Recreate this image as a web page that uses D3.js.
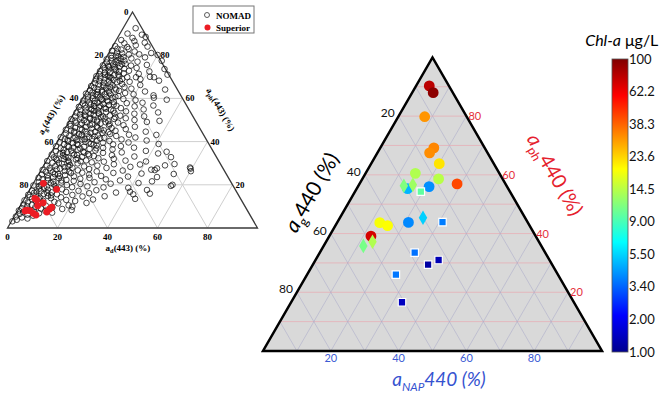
<!DOCTYPE html>
<html>
<head>
<meta charset="utf-8">
<script src="https://cdn.jsdelivr.net/npm/d3@7"></script>
<style>
	body { margin: 0; background: #fff; }
	svg { display: block; }
	.serif { font-family: 'Liberation Serif', 'Times New Roman', serif; font-weight: bold; }
	.sans { font-family: Lato, 'Open Sans', sans-serif; }
</style>
</head>
<body>
<div id="chart"></div>
<script>
// NOMAD samples, [a_d(443), a_ph(443)] in %, a_g is the rest
const nomad = [
	[5,92.5],[3,90],[9,89.5],[6,88],[11,88.5],[2,87],[7.5,86.5],[4,85.5],[12,85.8],[9,84.6],[1,84.2],[14,84],[6,83.8],
	[2.5,83],[4.2,82.6],[7,82.9],[0.8,82],[10,81.7],[3.3,81.2],[5.5,80.8],[17,81],[8.4,80.3],[1.6,80],[12.5,80.4],[4.6,79.5],[20,80.1],[6.8,79.2],[2.2,78.7],[10.3,78.5],[15.5,79],[0.6,78.1],[5.2,77.8],[8,77.5],
	[3.1,77.2],[1.4,76.6],[13.5,77],[6.3,76.4],[23,77.4],[9.2,76],[4.4,75.7],[0.5,75.3],[2.7,75],[7.6,74.9],[11.8,75.2],[18,75.5],[5.5,74.4],[1.9,74],[9.8,73.8],[14.6,74.1],[3.8,73.3],[6.9,73],[26,73.6],[0.7,72.6],[12.2,72.8],[8.5,72.3],[2.9,72.1],[20.5,72.5],[5,71.8],[10.7,71.6],
	[1.2,71.2],[16.8,71.4],[3.6,70.9],[7.3,70.7],[28.5,71],[0.4,70.3],[9.6,70.2],[5.9,69.9],[2.4,69.6],[13,69.8],[22,70],[23.7,69.8],[16.5,69.8],[4.3,69.2],[11.4,69],[0.9,68.8],[8.1,68.6],[6.4,68.3],[18.7,68.9],[2.8,68],[15,67.7],[10,67.5],[26.5,68.2],[4.9,67.3],[1.6,67],[7.7,66.9],[12.6,66.6],[3.2,66.4],[20,66.2],[9,66],
	[0.6,65.7],[5.8,65.5],[14.2,65.2],[2.1,65],[7.1,64.8],[10.8,64.6],[3.9,64.3],[17.3,64.5],[31,64.1],[1.1,63.8],[6,63.6],[8.9,63.3],[12.9,63.5],[4.6,63],[23.4,63.2],[2.6,62.7],[15.8,62.5],[0.3,62.2],[7.9,62],[10.4,61.8],[5.2,61.6],[19.5,61.9],[3.4,61.3],[13.8,61.1],[1.8,60.8],[9.3,60.6],[27.7,61.4],[28.4,60.3],[6.7,60.4],[11.9,60.2],[4.1,60],
	[16.5,59.7],[2.3,59.5],[8.2,59.3],[0.8,59],[21.6,59.2],[5.5,58.8],[34,59.4],[10.9,58.6],[13.4,58.3],[3.7,58.1],[7,57.9],[1.4,57.6],[18.8,57.8],[25,58],[9.7,57.4],[4.8,57.1],[12.1,56.9],[15.3,56.6],[2.6,56.8],[6.4,56.4],[0.5,56.1],[22.7,56.3],[30,56.7],[8.6,55.9],[11,55.6],[3.5,55.4],[17.6,55.5],[5.9,55.1],[14,54.8],[1.9,54.6],[9.1,54.4],[27,54.9],[7.4,54.2],[20.4,54],
	[4.2,53.8],[12.6,53.6],[0.9,53.4],[16.2,53.2],[6.8,53],[33.5,53.5],[10.2,52.8],[2.7,52.6],[24.3,52.9],[8.3,52.3],[14.9,52.1],[5.1,51.9],[19.1,52],[1.3,51.6],[11.7,51.4],[3.9,51.2],[28.8,51.7],[7.6,51],[21.9,50.8],[13.5,50.6],[0.4,50.4],[9.4,50.2],[17.4,50.5],[5.7,49.9],[2.2,49.7],[25.8,50],[15.6,49.4],[11.3,49.2],[36,49.6],[7.2,48.9],[3.1,48.7],[19.8,48.8],[31.2,49.1],[13,48.4],[0.8,48.2],[9.9,48],
	[5.3,47.8],[22.6,47.6],[16.9,47.4],[1.7,47.2],[12.3,47],[8,46.8],[3.8,46.5],[27.5,46.9],[18.5,46.3],[10.6,46.1],[6.1,45.9],[14.4,45.7],[0.6,45.5],[24.4,45.8],[2.9,45.2],[20.7,45],[8.8,44.8],[33,44.6],[12.8,44.5],[4.7,44.2],[16,44],[1.5,43.8],[10.1,43.6],[6.9,43.4],[27,43.2],[19.3,43.5],[38,43.1],[14.7,42.9],[3.4,42.7],[8.4,42.4],[22.2,42.6],[11.6,42.2],[0.3,42],
	[17.8,41.8],[5.6,41.6],[30.2,41.9],[13.2,41.3],[2.4,41.1],[9.5,40.9],[25.1,41],[7.3,40.6],[15.5,40.4],[4.1,40.2],[20.6,40.3],[35.4,40.5],[11.2,39.9],[1,39.7],[18.4,39.5],[6.5,39.3],[28.6,39.6],[13.9,39],[3.2,38.8],[22.9,38.7],[9,38.5],[41,38.9],[16.6,38.2],[5,38],[0.5,37.8],[11.8,37.6],[26.4,37.9],[7.8,37.3],[19.7,37.1],[2.8,36.9],[32,37.2],[14.5,36.6],[9.9,36.3],[4.4,36.1],
	[23.8,36.4],[17.2,35.9],[37.5,35.7],[1.6,35.6],[12.6,35.4],[46,35.3],[6.2,35.1],[28.2,35],[20.8,34.8],[8.7,34.6],[3.7,34.4],[15.1,34.2],[43,34.5],[0.7,34],[10.9,33.8],[24.9,33.7],[5.4,33.5],[17.9,33.3],[34.2,33.1],[13.4,32.9],[2.2,32.7],[8.1,32.5],[49,32.8],[20.2,32.3],[26.5,32],[6.6,31.9],[11.5,31.7],[4,31.5],[15.8,31.3],[31.6,31.2],[0.4,31],[40,30.8],[9.3,30.6],[23.2,30.7],[18.5,30.4],[2.9,30.2],
	[13.1,29.9],[6.9,29.8],[52,29.6],[48.5,29],[27.8,29.5],[38.3,29.4],[10.4,29.2],[1.2,29],[21.5,28.9],[4.8,28.7],[16.4,28.5],[59,28],[59.5,27.5],[46,27.6],[8.6,28.2],[35,28.3],[12,27.9],[3,27.7],[25.7,27.8],[19,27.3],[6.1,27.1],[0.6,26.9],[44,27],[45.5,26.8],[14.8,26.7],[32.8,26.6],[9.7,26.4],[22.6,26.2],[2.3,26],[60.2,26.3],[5.2,25.8],[17.1,25.6],[12.7,25.4],[29.6,25.5],[41,25.2],[54,25],[7.8,25],[1.4,24.8],[20.3,24.7],[10.8,24.5],[3.8,24.3],[25.4,24.1],
	[14.6,23.9],[36.3,23.8],[48,23.6],[6.5,23.5],[0.8,23.3],[21.2,23.2],[9.1,23],[17.7,22.8],[2.7,22.6],[28.1,22.5],[12.4,22.3],[5,22.1],[34,22],[47,21.6],[15.6,21.8],[7.6,21.5],[1.9,21.3],[24.2,21.2],[11,21],[42,20.8],[4.2,20.6],[19,20.4],[31,20.5],[56,20],[55.6,19.5],[8.4,20.2],[13.8,19.9],[0.5,19.7],[2.9,19.4],[22.3,19.3],[6.2,19.1],[16.4,18.9],[29,18.8],[39,18.6],[10.2,18.4],[3.6,18.2],
	[47,17.6],[12.9,17.9],[26.8,17.5],[7.3,17.7],[1.2,17.3],[19.8,17.2],[40.6,16.8],[4.8,17],[15.1,16.7],[9.4,16.5],[2.5,16.3],[35.2,16.4],[24.6,16.1],[49,15.9],[42.5,15.6],[6.6,15.8],[12,15.6],[0.6,15.4],[18.3,15.3],[4,15],[8.8,14.8],[31.5,14.7],[22.7,14.6],[1.8,14.4],[14.3,14.2],[6,14],[10.5,13.8],[44.3,13.5],[3.1,13.4],[27.6,13.2],[17,13],[0.4,12.8],[8,12.6],[20.8,12.5],[5.3,12.3],[12.7,12.1],
	[2.2,11.8],[25.8,11.6],[14.6,11.4],[7.1,11.2],[0.9,10.9],[4.4,10.7],[19.2,10.5],[10.1,10.4],[2.8,10.1],[21,9.9],[6.3,9.7],[13.2,9.5],[1.1,9.2],[8.9,9],[17.5,8.8],[4,8.6],[21.5,8.3],[0.5,8.1],[11.2,7.9],[6.8,7.6],[2.6,7.4],[14.3,7.1],[9.2,6.8],[1.6,6.5],[4.9,6.2],[7.4,5.7],[0.7,5.3],[3.3,4.9],[5.8,4.4],[1.8,3.8],[0.4,3.1],
	// dense core
	[3.5,79.8],[6.2,78.3],[4.8,76.9],[7.9,75.8],[3.3,74.6],[6.1,73.7],[8.8,71],[4.9,70.4],[6.8,69.5],[10.9,68.1],[5.3,66.1],[8.4,65.2],[11.5,64],[6.4,62.9],[9.6,62.4],[4.3,61.9],[12.8,60.7],[7.6,59.8],[10.3,59],[5.9,57.7],
	[13.9,57.2],[8.9,56.5],[11.8,55.2],[6.3,54.8],[15.2,54.3],[9.8,53.3],[4.6,52.4],[12.3,51.7],[17.5,51.3],[7.8,50.5],[10.9,49.8],[14.7,49],[5.5,48.5],[16.8,48.1],[9.2,47.6],[12.9,46.4],[7,45.6],[15.9,45.2],[4.3,44.7],[11.3,44.1],
	[18.2,44.4],[8.1,43.1],[13.6,42.4],[6.2,41.9],[16.3,41.5],[10.3,41.1],[3.6,40.8],[12.7,39.5],[8.3,38.9],[15.2,38.6],[5.8,37.5],[10.7,36.8],[17.1,36.9],[7.6,35.8],[13.2,34.9],[4.8,34.8],[9.7,33.9],[15.9,33.6],[6.8,32.9],[11.9,32.3],
	[3.3,32.1],[8.6,31.2],[13.8,30.9],[5.5,30.1],[10,28.6],[7.3,27.5],[3.9,26.6],[11.6,26.1],[6.5,24.9],[8.9,24],[4.6,23.1],[10.6,22],[6.9,20.8],[3.4,19.9],[9.6,19.3],[5.4,18.6],[7.8,16.2],[3.2,16.8],[5.7,13.6],[9.9,15.1]
]
// Lake Superior samples on the small plot, [a_d, a_ph]
const superior = [[4.0,20.7],[10.7,17.9],[4.1,13.7],[5.2,13],[8.4,11.7],[6.9,10.3],[3.5,8.3],[5,8],[6.9,6.8],[8.4,6],[12.4,8.7],[12.9,9.6],[12,7.4],[3.1,7.9]]

// big plot: a_g, a_ph, a_NAP (%) at 440 nm, Chl-a (ug/L), marker
const sampleAg   = [5.8, 5.8, 12.4, 15.0, 17.1, 16.1, 24.8, 18.9, 14.3, 29.7, 23.0, 43.7, 41.9, 35.2, 48.6, 30.3, 27.5, 30.1, 49.1, 52.5, 26.4, 25.1, 38.5, 36.6, 32.7, 47.8, 50.7]
const sampleAph  = [90.3, 88.0, 79.8, 69.2, 67.5, 63.8, 60.5, 58.6, 56.9, 55.3, 56.0, 43.7, 42.7, 43.8, 39.1, 56.3, 56.6, 45.4, 37.2, 35.8, 54.3, 43.9, 33.5, 29.4, 31.0, 26.0, 16.6]
const sampleAnap = [3.9, 6.2, 7.8, 15.8, 15.4, 20.1, 14.7, 22.5, 28.8, 15.0, 21.0, 12.6, 15.4, 21.0, 12.3, 13.4, 15.9, 24.5, 13.7, 11.7, 19.4, 31.0, 28.0, 34.0, 36.3, 26.2, 32.7]
const sampleChl  = [78, 95, 31, 33, 32, 22, 14, 14.5, 43, 4.8, 4.1, 19, 19.5, 4.0, 70, 11.5, 13, 5.4, 14, 11, 10, 3.8, 3.6, 1.15, 1.3, 3.7, 1.4]
const sampleMarker = ['circle','circle','circle','circle','circle','circle','circle','circle','circle','circle','circle','circle','circle','circle','circle',
	'diamond','diamond','diamond','diamond','diamond','square','square','square','square','square','square','square']

const chlTicks = [1.00, 2.00, 3.40, 5.50, 9.00, 14.5, 23.6, 38.3, 62.2, 100]
const chlLabels = ['1.00', '2.00', '3.40', '5.50', '9.00', '14.5', '23.6', '38.3', '62.2', '100']
const gridSmall = [20, 40, 60, 80]
const gridBig = [10, 20, 30, 40, 50, 60, 70, 80, 90]
const tickBig = [20, 40, 60, 80]
const tickSmall = [0, 20, 40, 60, 80]

const svg = d3.select('#chart').append('svg').attr('width', 669).attr('height', 394)

// jet colormap
const jetStops = [0, 0.125, 0.375, 0.625, 0.875, 1]
const jet = d3.scaleLinear().domain(jetStops)
	.range(['#00008f', '#0000ff', '#00ffff', '#ffff00', '#ff0000', '#800000'])
const chlPos = d3.scaleLog().domain(chlTicks).range(chlTicks.map((d, i) => i / (chlTicks.length - 1))).clamp(true)
const chlColor = c => jet(chlPos(c))

class Ternary {
	constructor(x0, x1, yBase, yTop) {
		this.x = d3.scaleLinear().domain([0, 100]).range([x0, x1])
		this.y = d3.scaleLinear().domain([0, 100]).range([yBase, yTop])
	}
	// right corner = third component, top = ph
	pt(ph, third) { return [this.x(third + ph / 2), this.y(ph)] }
}

/* ---------- small plot ---------- */
const tl = new Ternary(7.5, 257.5, 228, 12)
const left = svg.append('g').attr('class', 'serif')

const gl = left.append('g').attr('stroke', '#cfcfcf').attr('stroke-width', 1)
gridSmall.forEach(v => {
	let a = tl.pt(v, 0), b = tl.pt(v, 100 - v)
	gl.append('line').attr('x1', a[0]).attr('y1', a[1]).attr('x2', b[0]).attr('y2', b[1])
	a = tl.pt(0, v); b = tl.pt(100 - v, v)
	gl.append('line').attr('x1', a[0]).attr('y1', a[1]).attr('x2', b[0]).attr('y2', b[1])
	a = tl.pt(0, 100 - v); b = tl.pt(100 - v, 0)
	gl.append('line').attr('x1', a[0]).attr('y1', a[1]).attr('x2', b[0]).attr('y2', b[1])
})
left.append('path')
	.attr('d', d3.line()([tl.pt(0, 0), tl.pt(0, 100), tl.pt(100, 0)]) + 'Z')
	.attr('fill', 'none').attr('stroke', '#3a3a3a').attr('stroke-width', 1.3)

left.append('g').selectAll('circle').data(nomad).enter().append('circle')
	.attr('cx', d => tl.pt(d[1], d[0])[0])
	.attr('cy', d => tl.pt(d[1], d[0])[1])
	.attr('r', 2.8)
	.attr('fill', 'none').attr('stroke', '#111').attr('stroke-width', 0.9).attr('stroke-opacity', 0.85)

left.append('g').selectAll('circle').data(superior).enter().append('circle')
	.attr('cx', d => tl.pt(d[1], d[0])[0])
	.attr('cy', d => tl.pt(d[1], d[0])[1])
	.attr('r', 3.4).attr('fill', '#ec1c24')

const fs = '9px'
left.selectAll('.bt').data(tickSmall).enter().append('text')
	.attr('x', d => tl.x(d)).attr('y', 240).attr('text-anchor', 'middle')
	.style('font-size', fs).text(d => d)
left.selectAll('.lt').data(tickSmall).enter().append('text')
	.attr('x', d => tl.pt(100 - d, 0)[0] - 4).attr('y', d => tl.pt(100 - d, 0)[1] + 3)
	.attr('text-anchor', 'end').style('font-size', fs).text(d => d)
left.selectAll('.rt').data(gridSmall).enter().append('text')
	.attr('x', d => tl.pt(d, 100 - d)[0] + 3).attr('y', d => tl.pt(d, 100 - d)[1] + 3)
	.style('font-size', fs).text(d => d)

function subLabel(g, sub, rest, size) {
	g.append('tspan').text('a')
	g.append('tspan').attr('dy', 2).style('font-size', size * 0.7 + 'px').text(sub)
	g.append('tspan').attr('dy', -2).text(rest)
}
let t = left.append('text').attr('transform', 'translate(54,116) rotate(-60)')
	.attr('text-anchor', 'middle').style('font-size', '9px')
subLabel(t, 'g', '(443) (%)', 9)
t = left.append('text').attr('transform', 'translate(218,111) rotate(60)')
	.attr('text-anchor', 'middle').style('font-size', '9px')
subLabel(t, 'ph', '(443) (%)', 9)
t = left.append('text').attr('x', 128).attr('y', 251)
	.attr('text-anchor', 'middle').style('font-size', '9px')
subLabel(t, 'd', '(443) (%)', 9)

// legend
const lg = left.append('g')
lg.append('rect').attr('x', 193).attr('y', 6).attr('width', 61).attr('height', 27)
	.attr('fill', '#fff').attr('stroke', '#777').attr('stroke-width', 1)
lg.append('circle').attr('cx', 207).attr('cy', 15).attr('r', 2.5)
	.attr('fill', 'none').attr('stroke', '#333').attr('stroke-width', 0.8)
lg.append('circle').attr('cx', 207.5).attr('cy', 27.5).attr('r', 3).attr('fill', '#ec1c24')
lg.append('text').attr('x', 216).attr('y', 18.5).style('font-size', '9px').text('NOMAD')
lg.append('text').attr('x', 216).attr('y', 31).style('font-size', '9px').text('Superior')

/* ---------- big plot ---------- */
const tr = new Ternary(263, 602, 351, 57.4)
const right = svg.append('g').attr('class', 'sans')

right.append('path')
	.attr('d', d3.line()([tr.pt(0, 0), tr.pt(0, 100), tr.pt(100, 0)]) + 'Z')
	.attr('fill', '#d9d9d9')

const gr = right.append('g').attr('stroke-width', 0.9)
gridBig.forEach(v => {
	let a = tr.pt(v, 0), b = tr.pt(v, 100 - v)
	gr.append('line').attr('x1', a[0]).attr('y1', a[1]).attr('x2', b[0]).attr('y2', b[1])
		.attr('stroke', '#eaa4ad').attr('stroke-opacity', 0.7)
	a = tr.pt(0, v); b = tr.pt(100 - v, v)
	gr.append('line').attr('x1', a[0]).attr('y1', a[1]).attr('x2', b[0]).attr('y2', b[1])
		.attr('stroke', '#a9a9c9').attr('stroke-opacity', 0.6)
	a = tr.pt(0, 100 - v); b = tr.pt(100 - v, 0)
	gr.append('line').attr('x1', a[0]).attr('y1', a[1]).attr('x2', b[0]).attr('y2', b[1])
		.attr('stroke', '#a9a9c9').attr('stroke-opacity', 0.6)
})
right.append('path')
	.attr('d', d3.line()([tr.pt(0, 0), tr.pt(0, 100), tr.pt(100, 0)]) + 'Z')
	.attr('fill', 'none').attr('stroke', '#000').attr('stroke-width', 2.5).attr('stroke-linejoin', 'miter')

const symbols = { circle: [d3.symbolCircle, 92], diamond: [d3.symbolDiamond, 62], square: [d3.symbolSquare, 56] }
right.append('g').selectAll('path').data(sampleChl).enter().append('path')
	.attr('transform', (d, i) => {
		let p = tr.pt(sampleAph[i], sampleAnap[i])
		return `translate(${p[0]},${p[1]})`
	})
	.attr('d', (d, i) => d3.symbol().type(symbols[sampleMarker[i]][0]).size(symbols[sampleMarker[i]][1])())
	.attr('fill', d => chlColor(d))
	.attr('stroke', (d, i) => sampleMarker[i] == 'square' ? '#fff' : 'none')
	.attr('stroke-width', 1.2)

// ticks
right.selectAll('.lt').data(tickBig).enter().append('text')
	.attr('x', d => tr.pt(100 - d, 0)[0] - 4).attr('y', d => tr.pt(100 - d, 0)[1] + 1)
	.attr('text-anchor', 'end').style('font-size', '12px').attr('fill', '#111').text(d => d)
right.selectAll('.rt').data(tickBig).enter().append('text')
	.attr('x', d => tr.pt(d, 100 - d)[0] + 2).attr('y', d => tr.pt(d, 100 - d)[1] + 4)
	.style('font-size', '11px').attr('fill', '#e5303b').text(d => d)
right.selectAll('.bt').data(tickBig).enter().append('text')
	.attr('x', d => tr.x(d)).attr('y', 362).attr('text-anchor', 'middle')
	.style('font-size', '11px').attr('fill', '#3b5bd4').text(d => d)

function bigLabel(g, sub, size) {
	g.append('tspan').style('font-style', 'italic').text('a')
	g.append('tspan').attr('dy', 5).style('font-size', size * 0.62 + 'px').text(sub)
	g.append('tspan').attr('dy', -5).text('440 (%)')
}
t = right.append('text').attr('transform', 'translate(318,196) rotate(-60)')
	.attr('text-anchor', 'middle').style('font-size', '21px').attr('fill', '#000')
bigLabel(t, 'g', 21)
t = right.append('text').attr('transform', 'translate(549,178) rotate(60)')
	.attr('text-anchor', 'middle').style('font-size', '20px').attr('fill', '#e5202c')
bigLabel(t, 'ph', 20)
t = right.append('text').attr('x', 439).attr('y', 386)
	.attr('text-anchor', 'middle').style('font-size', '19px').style('font-style', 'italic').attr('fill', '#3552d0')
bigLabel(t, 'NAP', 19)

/* ---------- colour bar ---------- */
const cb = svg.append('g').attr('class', 'sans')
const barY = d3.scaleLinear().domain([0, chlTicks.length - 1]).range([352, 59])
const grad = svg.append('defs').append('linearGradient').attr('id', 'jetGrad')
	.attr('x1', 0).attr('y1', 1).attr('x2', 0).attr('y2', 0)
grad.selectAll('stop').data(jetStops).enter().append('stop')
	.attr('offset', d => d * 100 + '%').attr('stop-color', d => jet(d))
cb.append('rect').attr('x', 612).attr('y', barY(chlTicks.length - 1)).attr('width', 16)
	.attr('height', barY(0) - barY(chlTicks.length - 1))
	.attr('fill', 'url(#jetGrad)').attr('stroke', '#555').attr('stroke-width', 0.8)
cb.selectAll('.cl').data(chlLabels).enter().append('text')
	.attr('x', 629).attr('y', (d, i) => barY(i)).attr('dy', '0.35em')
	.style('font-size', '13px').attr('fill', '#111').text(d => d)
cb.append('text').attr('x', 621).attr('y', 46).attr('text-anchor', 'end')
	.style('font-size', '16px').style('font-style', 'italic').text('Chl-a')
cb.append('text').attr('x', 625).attr('y', 46)
	.style('font-size', '16px').text('μg/L')
</script>
</body>
</html>
